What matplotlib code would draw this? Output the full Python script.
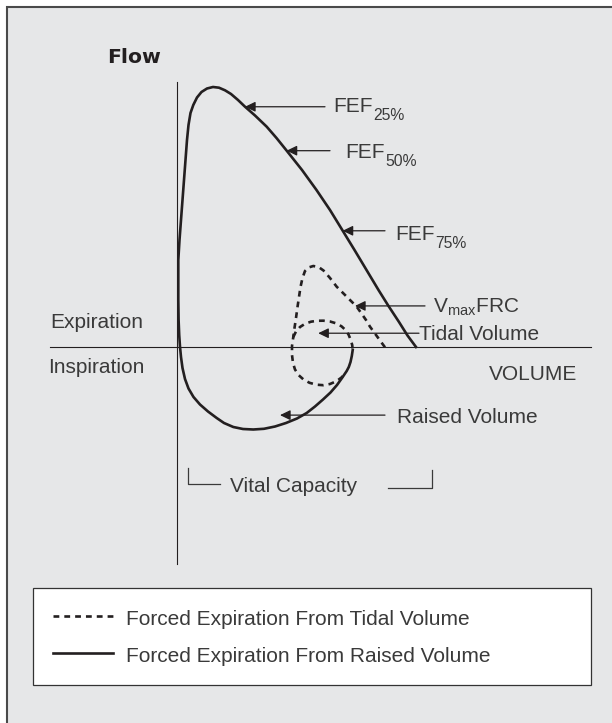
import matplotlib
matplotlib.use('Agg')
import matplotlib.pyplot as plt
from matplotlib.patches import Rectangle

plt.rcParams['font.family'] = ['Liberation Sans', 'DejaVu Sans']
plt.rcParams['mathtext.default'] = 'regular'

# flow-volume loop, volume in L, flow in L/s (expiration positive)
# solid: from end of tidal inspiration, down through inspiration, up to peak, out to RV
raised_vol = [4.3925, 4.37, 4.3375, 4.295, 4.2425, 4.125, 4.0, 3.8375, 3.65, 3.45,
              3.2425, 3.0, 2.725, 2.45, 2.175, 1.9075, 1.65, 1.4075, 1.175, 0.9925,
              0.775, 0.575, 0.4125, 0.2875, 0.2, 0.1375, 0.1, 0.075, 0.055, 0.04,
              0.0325, 0.0325, 0.0325, 0.0625, 0.1, 0.1375, 0.175, 0.2125, 0.25, 0.2875,
              0.3375, 0.4075, 0.5, 0.6125, 0.75, 0.9, 1.05, 1.2, 1.35, 1.525, 1.7,
              1.95, 2.2425, 2.4875, 2.7425, 3.125, 3.4875, 3.825, 4.1425, 4.4375,
              4.7375, 5.0375, 5.2875, 5.55, 5.7625, 5.975]
raised_flow = [-0.115, -0.346, -0.577, -0.769, -0.923, -1.192, -1.462, -1.75, -2.019,
               -2.288, -2.538, -2.75, -2.923, -3.058, -3.146, -3.173, -3.154, -3.077,
               -2.923, -2.731, -2.481, -2.212, -1.923, -1.596, -1.231, -0.808, -0.385,
               0.012, 0.462, 1.038, 1.808, 2.577, 3.346, 4.115, 4.885, 5.654, 6.423,
               7.192, 7.962, 8.538, 9.0, 9.308, 9.596, 9.808, 9.942, 10.0, 9.973,
               9.873, 9.731, 9.5, 9.242, 8.904, 8.473, 8.038, 7.55, 6.808, 6.038,
               5.269, 4.473, 3.731, 2.962, 2.192, 1.577, 0.962, 0.442, 0.0]

# dashed: forced expiration from tidal volume, joined to the lower tidal loop
tidal_vol = [5.2, 5.075, 4.95, 4.825, 4.725, 4.6125, 4.4925, 4.325, 4.1625, 3.9925,
             3.825, 3.6625, 3.5375, 3.4075, 3.2875, 3.2, 3.1375, 3.0875, 3.05, 3.0125,
             2.975, 2.9375, 2.9075, 2.875, 2.875, 2.9, 2.95, 3.0375, 3.1625, 3.3125,
             3.4875, 3.6575, 3.825, 3.9875, 4.1125, 4.2]
tidal_flow = [-0.012, 0.25, 0.519, 0.781, 1.038, 1.288, 1.55, 1.808, 2.058, 2.319,
              2.654, 2.942, 3.077, 3.115, 3.058, 2.923, 2.654, 2.308, 1.923, 1.538,
              1.115, 0.731, 0.385, 0.038, -0.308, -0.615, -0.865, -1.077, -1.25,
              -1.377, -1.45, -1.469, -1.423, -1.315, -1.173, -1.012]

# dashed: upper half of the tidal breathing loop
loop_vol = [2.9075, 2.975, 3.075, 3.2, 3.35, 3.5, 3.6575, 3.825, 3.975, 4.1125,
            4.2125, 4.2875, 4.345, 4.38, 4.3925]
loop_flow = [0.385, 0.596, 0.769, 0.892, 0.973, 1.008, 1.012, 0.981, 0.912, 0.796,
             0.654, 0.481, 0.269, 0.077, -0.115]

# annotations: label, subscript, arrow tip (vol, flow), arrow tail vol, text vol, baseline flow
labels = ['FEF', 'FEF', 'FEF', 'V$_{max}$FRC', 'Tidal Volume', 'Raised Volume']
subs = ['25%', '50%', '75%', '', '', '']
tip_vol = [1.70, 2.74, 4.14, 4.45, 3.53, 2.575]
tip_flow = [9.24, 7.55, 4.47, 1.58, 0.53, -2.62]
tail_vol = [3.7, 3.825, 5.2, 6.2, 6.05, 5.2]
text_vol = [3.9, 4.2, 5.45, 6.39, 6.06, 5.49]
text_flow = [9.04, 7.25, 4.12, 1.32, 0.27, -2.92]

ink = '#231f20'
txt = '#3a3a3a'

fig = plt.figure(figsize=(6.12, 7.23), dpi=100)
ax = fig.add_axes([0, 0, 1, 1])
ax.set_xlim(-4.425, 10.875)
ax.set_ylim(-14.4615, 13.346)
ax.axis('off')

# grey panel with border on top/left
ax.add_patch(Rectangle((7 / 612, -0.05), 1.1, 1.05 - 7 / 723, transform=ax.transAxes,
                       facecolor='#e6e7e8', edgecolor='#4a4a4a', lw=1.5, zorder=0))

# axes lines
ax.plot([0, 0], [10.19, -8.35], color=ink, lw=0.8)
ax.plot([-3.175, 10.35], [0, 0], color=ink, lw=0.8)

l1, = ax.plot(tidal_vol, tidal_flow, color=ink, lw=1.9, dashes=(2.2, 1.9),
              label='Forced Expiration From Tidal Volume')
ax.plot(loop_vol, loop_flow, color=ink, lw=1.9, dashes=(2.2, 1.9))
l2, = ax.plot(raised_vol, raised_flow, color=ink, lw=1.9, solid_joinstyle='round',
              label='Forced Expiration From Raised Volume')

for i in range(len(labels)):
    ax.annotate('', xy=(tip_vol[i], tip_flow[i]), xytext=(tail_vol[i], tip_flow[i]),
                arrowprops=dict(arrowstyle='-|>,head_length=0.62,head_width=0.3',
                                mutation_scale=10, color=ink, lw=0.9,
                                shrinkA=0, shrinkB=0))
    t = ax.text(text_vol[i], text_flow[i], labels[i], fontsize=15, color=txt,
                ha='left', va='baseline')
    if subs[i]:
        ax.annotate(subs[i], xy=(1, 0), xycoords=t, xytext=(0.3, -2.8),
                    textcoords='offset points', fontsize=11.3, color=txt,
                    ha='left', va='baseline')

ax.text(-1.75, 10.92, 'Flow', fontsize=14.7, fontweight='bold', family='DejaVu Sans',
        color=ink, va='baseline')
ax.text(-3.175, 0.73, 'Expiration', fontsize=15, color=txt, va='baseline')
ax.text(-3.225, -1.0, 'Inspiration', fontsize=15, color=txt, va='baseline')
ax.text(7.8, -1.27, 'VOLUME', fontsize=15, color=txt, va='baseline')

# vital capacity bracket
ax.plot([0.27, 0.27, 1.075], [-4.67, -5.28, -5.28], color=txt, lw=0.9)
ax.plot([5.28, 6.37, 6.37], [-5.41, -5.41, -4.73], color=txt, lw=0.9)
ax.text(1.325, -5.57, 'Vital Capacity', fontsize=15, color=txt, va='baseline')

leg = ax.legend(handles=[l1, l2], loc='upper left', mode='expand',
                bbox_to_anchor=(33.3 / 612, 0, 557.7 / 612, 1 - 587.7 / 723),
                borderaxespad=0, fontsize=15, handlelength=2.88, handletextpad=0.64,
                handleheight=1.18, labelspacing=0.74, borderpad=0.93, fancybox=False,
                framealpha=1, edgecolor='#333333', facecolor='white')
leg.get_frame().set_linewidth(0.9)
for t in leg.get_texts():
    t.set_color(txt)

fig.savefig('out.png', dpi=100, facecolor='white')
